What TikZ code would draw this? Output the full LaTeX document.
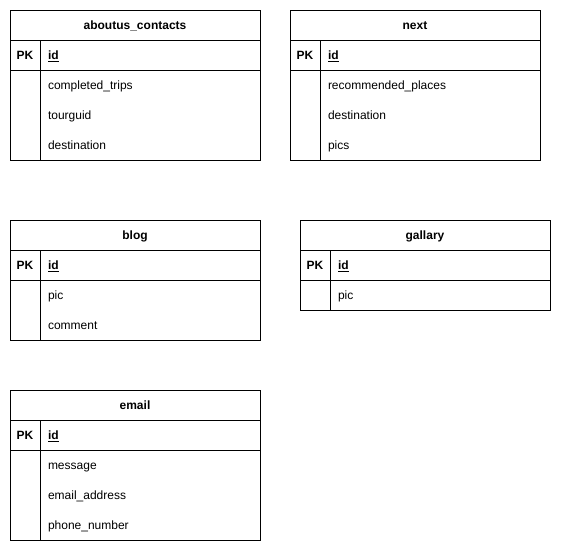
\documentclass[tikz,border=0pt]{standalone}
\usepackage{fontspec}
\setmainfont{Liberation Sans}
\usetikzlibrary{positioning}

\begin{document}
\begin{tikzpicture}[x=0.75pt, y=-0.75pt,
    every node/.style={draw=black, line width=0.75pt, inner sep=0pt, outer sep=0pt, text height=8pt, text depth=2pt, font=\fontsize{9}{11}\selectfont},
    titlebox/.style={minimum width=187.5pt, minimum height=22.5pt, font=\fontsize{9}{11}\selectfont\bfseries},
    pkbox/.style={minimum width=22.5pt, minimum height=22.5pt, font=\fontsize{9}{11}\selectfont\bfseries},
    idbox/.style={text width=153pt, inner xsep=6pt, align=left, minimum height=22.5pt, font=\fontsize{9}{11}\selectfont\bfseries},
    keycol/.style={minimum width=22.5pt},
    rowsbox/.style={minimum width=165pt},
    fieldtext/.style={draw=none, anchor=west}]
  \useasboundingbox (0,0) rectangle (561,551);

  % aboutus_contacts
  \node[titlebox] (ac) at (135,25) {aboutus\_contacts};
  \node[pkbox, anchor=north west] (ac pk) at (ac.south west) {PK};
  \node[idbox, right=0pt of ac pk] (ac id) {\underline{id}};
  \node[keycol, minimum height=67.5pt, below=0pt of ac pk] (ac key) {};
  \node[rowsbox, minimum height=67.5pt, right=0pt of ac key] (ac rows) {};
  \foreach \f [count=\i from 0] in {completed\_trips, tourguid, destination}
    \node[fieldtext] (ac f\i) at ([shift={(8,15+30*\i)}]ac rows.north west) {\f};

  % next
  \node[titlebox] (nx) at (415,25) {next};
  \node[pkbox, anchor=north west] (nx pk) at (nx.south west) {PK};
  \node[idbox, right=0pt of nx pk] (nx id) {\underline{id}};
  \node[keycol, minimum height=67.5pt, below=0pt of nx pk] (nx key) {};
  \node[rowsbox, minimum height=67.5pt, right=0pt of nx key] (nx rows) {};
  \foreach \f [count=\i from 0] in {recommended\_places, destination, pics}
    \node[fieldtext] (nx f\i) at ([shift={(8,15+30*\i)}]nx rows.north west) {\f};

  % blog
  \node[titlebox] (bl) at (135,235) {blog};
  \node[pkbox, anchor=north west] (bl pk) at (bl.south west) {PK};
  \node[idbox, right=0pt of bl pk] (bl id) {\underline{id}};
  \node[keycol, minimum height=45pt, below=0pt of bl pk] (bl key) {};
  \node[rowsbox, minimum height=45pt, right=0pt of bl key] (bl rows) {};
  \foreach \f [count=\i from 0] in {pic, comment}
    \node[fieldtext] (bl f\i) at ([shift={(8,15+30*\i)}]bl rows.north west) {\f};

  % gallary
  \node[titlebox] (gl) at (425,235) {gallary};
  \node[pkbox, anchor=north west] (gl pk) at (gl.south west) {PK};
  \node[idbox, right=0pt of gl pk] (gl id) {\underline{id}};
  \node[keycol, minimum height=22.5pt, below=0pt of gl pk] (gl key) {};
  \node[rowsbox, minimum height=22.5pt, right=0pt of gl key] (gl rows) {};
  \foreach \f [count=\i from 0] in {pic}
    \node[fieldtext] (gl f\i) at ([shift={(8,15+30*\i)}]gl rows.north west) {\f};

  % email
  \node[titlebox] (em) at (135,405) {email};
  \node[pkbox, anchor=north west] (em pk) at (em.south west) {PK};
  \node[idbox, right=0pt of em pk] (em id) {\underline{id}};
  \node[keycol, minimum height=67.5pt, below=0pt of em pk] (em key) {};
  \node[rowsbox, minimum height=67.5pt, right=0pt of em key] (em rows) {};
  \foreach \f [count=\i from 0] in {message, email\_address, phone\_number}
    \node[fieldtext] (em f\i) at ([shift={(8,15+30*\i)}]em rows.north west) {\f};
\end{tikzpicture}
\end{document}
